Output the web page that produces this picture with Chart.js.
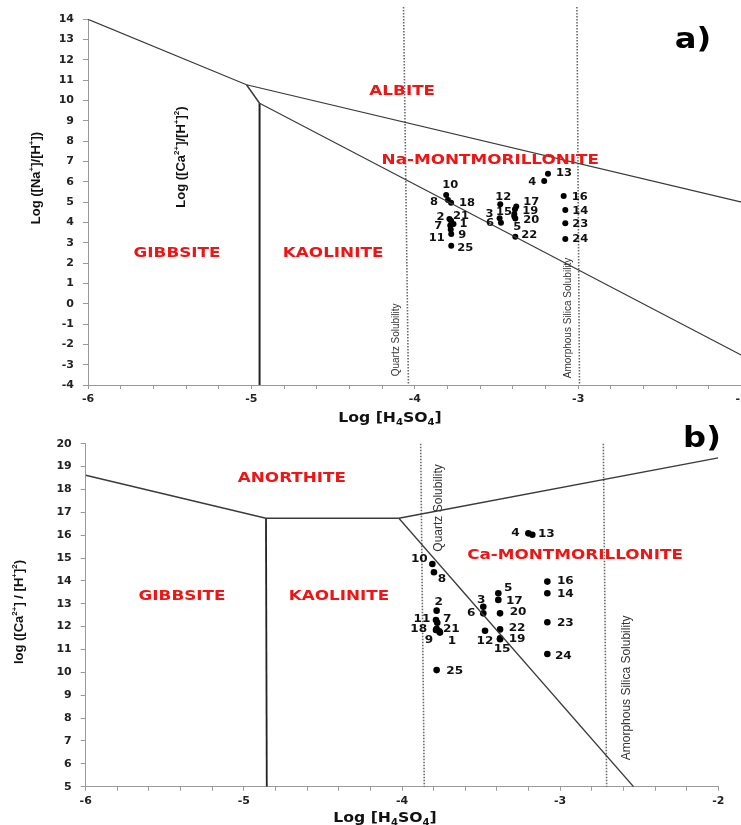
<!DOCTYPE html>
<html><head><meta charset="utf-8">
<script src="https://cdn.jsdelivr.net/npm/chart.js@4.4.1/dist/chart.umd.min.js"></script>
<style>
html,body{margin:0;padding:0;background:#fff;overflow:hidden;width:741px;height:825px;position:relative}
#wa{position:absolute;left:0;top:0;width:760px;height:425px}
#wb{position:absolute;left:0;top:420px;width:741px;height:405px}
canvas{display:block}
</style></head><body>
<div id="wa"><canvas id="ca" width="760" height="425"></canvas></div>
<div id="wb"><canvas id="cb" width="741" height="405"></canvas></div>
<script>
// ---------- DATA: chart a) Na system ----------
const sampleIds = ['1','2','3','4','5','6','7','8','9','10','11','12','13','14','15','16','17','18','19','20','21','22','23','24','25'];
const aSilica = [-3.763,-3.788,-3.481,-3.208,-3.385,-3.473,-3.783,-3.797,-3.777,-3.808,-3.780,-3.477,-3.185,-3.079,-3.387,-3.089,-3.379,-3.778,-3.391,-3.391,-3.778,-3.385,-3.079,-3.079,-3.777];
const aNaRatio = [3.93,4.17,4.21,6.04,4.20,3.99,3.85,5.11,3.43,5.35,3.65,4.90,6.40,4.61,4.65,5.30,4.78,4.97,4.42,4.30,4.09,3.30,3.96,3.19,2.86];
const aAlbiteX = [-6,-5.03,-2];          const aAlbiteY = [14,10.78,5.0];
const aKinkX = [-5.03,-4.95];            const aKinkY = [10.78,9.87];
const aKaolMontX = [-4.95,-2];           const aKaolMontY = [9.87,-2.54];
const aGibbKaolX = [-4.95,-4.95];        const aGibbKaolY = [9.87,-4];
const aQuartzX = [-4.069,-4.039];        const aQuartzY = [14.6,-4];
const aAmorphX = [-3.008,-2.992];        const aAmorphY = [14.6,-4];
const aXTicks = {min:-6,max:-2,step:0.2};
const aYTicks = {min:-4,max:14,step:1};

// ---------- DATA: chart b) Ca system ----------
const bSilica = [-3.760,-3.781,-3.486,-3.201,-3.391,-3.486,-3.777,-3.798,-3.785,-3.808,-3.785,-3.475,-3.176,-3.081,-3.380,-3.081,-3.391,-3.781,-3.380,-3.380,-3.764,-3.380,-3.081,-3.081,-3.781];
const bCaRatio = [11.74,12.70,12.87,16.08,13.46,12.58,12.17,14.38,11.85,14.74,12.29,11.82,16.02,13.46,11.45,13.97,13.17,11.90,11.49,12.58,11.80,11.88,12.19,10.80,10.10];
const bAnorthLeftX = [-6,-4.86];         const bAnorthLeftY = [18.62,16.74];
const bAnorthMidX = [-4.86,-4.02];       const bAnorthMidY = [16.74,16.74];
const bAnorthRightX = [-4.02,-2];        const bAnorthRightY = [16.74,19.38];
const bKaolMontX = [-4.02,-2.536];       const bKaolMontY = [16.74,5];
const bGibbKaolX = [-4.86,-4.855];       const bGibbKaolY = [16.74,5];
const bQuartzX = [-3.882,-3.859];        const bQuartzY = [20,5];
const bAmorphX = [-2.727,-2.706];        const bAmorphY = [20,5];
const bXTicks = {min:-6,max:-2,step:0.2};
const bYTicks = {min:5,max:20,step:1};

// ---------- STYLE ----------
const RED = '#f01414';
const SANS = '"DejaVu Sans", Verdana, sans-serif';
const LIB = '"Liberation Sans", Arial, sans-serif';
const aLabelOff = [[10,0],[-9,-3],[-10,-5],[-12,0],[2,8],[-11,0],[-12,0],[-14,1],[11,0],[4,-11],[-14,8],[3,-8],[16,-1],[15,0],[-11,2],[16,0],[15,-5],[16,0],[16,-4],[17,3],[10,-5],[14,-2],[15,0],[15,-1],[14,2]];
const bLabelOff = [[12,7],[2,-10],[-2,-8],[-13,-1],[10,-6],[-12,-1],[10,-5],[8,6],[-7,9],[-13,-6],[-14,-2],[0,9],[14,-2],[18,0],[2,9],[18,-2],[16,0],[-18,-1],[17,0],[18,-2],[12,-3],[17,-2],[18,0],[16,1],[18,0]];

function drawRich(ctx, cx, cy, segs, o){
  const size=o.size, fam=o.family, wt=o.weight||'normal';
  ctx.save();
  ctx.translate(cx,cy);
  ctx.scale(o.sx||1,1);
  if(o.rot) ctx.rotate(o.rot);
  ctx.fillStyle=o.color; ctx.textBaseline='alphabetic'; ctx.textAlign='left';
  const fontFor = k => `${wt} ${k ? Math.round(size*0.65) : size}px ${fam}`;
  let tot=0;
  const ws = segs.map(s=>{ctx.font=fontFor(s[1]); const w=ctx.measureText(s[0]).width; tot+=w; return w;});
  let x=-tot/2; const base=size*0.36;
  segs.forEach((s,i)=>{
    ctx.font=fontFor(s[1]);
    let dy=base;
    if(s[1]==='sup') dy=base-size*0.42;
    if(s[1]==='sub') dy=base+size*0.22;
    ctx.fillText(s[0],x,dy); x+=ws[i];
  });
  ctx.restore();
}

function annotPlugin(cfg){
  return {id:'annot', afterDatasetsDraw(chart){
    const ctx=chart.ctx, xs=chart.scales.x, ys=chart.scales.y;
    cfg.ids.forEach((id,i)=>{
      const px=xs.getPixelForValue(cfg.xv[i])+cfg.off[i][0];
      const py=ys.getPixelForValue(cfg.yv[i])+cfg.off[i][1];
      drawRich(ctx,px,py,[[id,'']],cfg.labelStyle);
    });
    cfg.texts.forEach(t=>{
      const px = t.px!==undefined ? t.px : xs.getPixelForValue(t.x);
      const py = t.py!==undefined ? t.py : ys.getPixelForValue(t.y);
      drawRich(ctx,px,py,t.segs,t);
    });
  }};
}

function lineDs(xs, ys, color, width, dash, noClip){
  const d={data:xs.map((v,i)=>({x:v,y:ys[i]})),showLine:true,pointRadius:0,pointHoverRadius:0,
    borderColor:color,borderWidth:width,borderDash:dash||[],fill:false,tension:0};
  if(noClip) d.clip=false;
  return d;
}

function makeChart(id, cfg){
  const ds = cfg.lines.slice();
  ds.push({data:cfg.xv.map((v,i)=>({x:v,y:cfg.yv[i]})),pointRadius:cfg.r,pointHoverRadius:cfg.r,
    backgroundColor:'#000',borderColor:'#000',borderWidth:0,showLine:false});
  const tickFont={family:SANS,size:11,weight:'bold'};
  return new Chart(document.getElementById(id),{
    type:'scatter',
    data:{datasets:ds},
    options:{
      responsive:false, animation:false, devicePixelRatio:1,
      events:[],
      layout:{padding:cfg.pad},
      plugins:{legend:{display:false},tooltip:{enabled:false},title:{display:false}},
      scales:{
        x:{type:'linear',min:cfg.xt.min,max:cfg.xt.max,
          border:{display:true,color:'#9a9a9a',width:1},
          grid:{display:true,drawOnChartArea:false,drawTicks:true,tickLength:4,color:'#9a9a9a'},
          ticks:{stepSize:cfg.xt.step,autoSkip:false,maxRotation:0,color:'#222',font:tickFont,padding:4,
            callback:v=>Math.abs(v-Math.round(v))<1e-6?String(Math.round(v)):''},
          afterFit:s=>{s.height=cfg.xH;}},
        y:{type:'linear',min:cfg.yt.min,max:cfg.yt.max,
          border:{display:true,color:'#9a9a9a',width:1},
          grid:{display:true,drawOnChartArea:false,drawTicks:true,tickLength:5,color:'#9a9a9a'},
          ticks:{stepSize:cfg.yt.step,autoSkip:false,color:'#222',font:tickFont,padding:9,
            callback:v=>String(Math.round(v))},
          afterFit:s=>{s.width=cfg.yW;}}
      }
    },
    plugins:[annotPlugin(cfg)]
  });
}

const LINE='#3a3a3a', DOT='#6a6a6a';
const redStyle = {size:14,weight:'bold',family:SANS,color:RED,sx:1.2};
const rotSmall = (s)=>({size:s,weight:'normal',family:LIB,color:'#333',rot:-Math.PI/2});

makeChart('ca',{
  xv:aSilica, yv:aNaRatio, ids:sampleIds, off:aLabelOff, r:3,
  labelStyle:{size:10,weight:'bold',family:SANS,color:'#111',sx:1.15},
  pad:{top:19.3,right:18.4,bottom:0,left:0}, xH:40, yW:88,
  xt:aXTicks, yt:aYTicks,
  lines:[
    lineDs(aAlbiteX,aAlbiteY,LINE,1.2),
    lineDs(aKinkX,aKinkY,LINE,1.5),
    lineDs(aKaolMontX,aKaolMontY,LINE,1.2),
    lineDs(aGibbKaolX,aGibbKaolY,'#222',2),
    lineDs(aQuartzX,aQuartzY,DOT,1.6,[1.5,1.5],true),
    lineDs(aAmorphX,aAmorphY,DOT,1.6,[1.5,1.5],true)
  ],
  texts:[
    Object.assign({segs:[['ALBITE','']],x:-4.077,y:10.52},redStyle),
    Object.assign({segs:[['Na-MONTMORILLONITE','']],x:-3.538,y:7.12},redStyle),
    Object.assign({segs:[['GIBBSITE','']],x:-5.455,y:2.55},redStyle),
    Object.assign({segs:[['KAOLINITE','']],x:-4.50,y:2.55},redStyle),
    {segs:[['Log ([Ca',''],['2+','sup'],[']/[H',''],['+','sup'],[']',''],['2','sup'],[')','']],x:-5.437,y:7.22,size:13,weight:'bold',family:LIB,color:'#111',rot:-Math.PI/2},
    {segs:[['Log ([Na',''],['+','sup'],[']/[H',''],['+','sup'],['])','']],px:35,py:178,size:13,weight:'bold',family:LIB,color:'#111',rot:-Math.PI/2},
    {segs:[['Log [H',''],['4','sub'],['SO',''],['4','sub'],[']','']],px:390,py:417,size:14,weight:'bold',family:SANS,color:'#111',sx:1.12},
    Object.assign({segs:[['Quartz Solubility','']],x:-4.120,y:-1.78},rotSmall(10)),
    Object.assign({segs:[['Amorphous Silica Solubility','']],x:-3.067,y:-0.70},rotSmall(10)),
    {segs:[['a)','']],px:693,py:38,size:28,weight:'bold',family:SANS,color:'#000',sx:1.15}
  ]
});

makeChart('cb',{
  xv:bSilica, yv:bCaRatio, ids:sampleIds, off:bLabelOff, r:3.3,
  labelStyle:{size:11,weight:'bold',family:SANS,color:'#111',sx:1.1},
  pad:{top:23.7,right:22.7,bottom:0,left:0}, xH:38.3, yW:85.7,
  xt:bXTicks, yt:bYTicks,
  lines:[
    lineDs(bAnorthLeftX,bAnorthLeftY,LINE,1.3),
    lineDs(bAnorthMidX,bAnorthMidY,LINE,1.3),
    lineDs(bAnorthRightX,bAnorthRightY,LINE,1.3),
    lineDs(bKaolMontX,bKaolMontY,LINE,1.3),
    lineDs(bGibbKaolX,bGibbKaolY,'#222',1.8),
    lineDs(bQuartzX,bQuartzY,DOT,1.6,[1.5,1.5],true),
    lineDs(bAmorphX,bAmorphY,DOT,1.6,[1.5,1.5],true)
  ],
  texts:[
    Object.assign({segs:[['ANORTHITE','']],x:-4.696,y:18.54},redStyle),
    Object.assign({segs:[['GIBBSITE','']],x:-5.391,y:13.38},redStyle),
    Object.assign({segs:[['KAOLINITE','']],x:-4.398,y:13.38},redStyle),
    Object.assign({segs:[['Ca-MONTMORILLONITE','']],x:-2.906,y:15.18},redStyle),
    {segs:[['log ([Ca',''],['2+','sup'],['] / [H',''],['+','sup'],[']',''],['2','sup'],[')','']],px:18,py:192,size:13,weight:'bold',family:LIB,color:'#111',rot:-Math.PI/2},
    {segs:[['Log [H',''],['4','sub'],['SO',''],['4','sub'],[']','']],px:385,py:397,size:14,weight:'bold',family:SANS,color:'#111',sx:1.12},
    Object.assign({segs:[['Quartz Solubility','']],x:-3.772,y:17.19},rotSmall(12)),
    Object.assign({segs:[['Amorphous Silica Solubility','']],x:-2.584,y:9.32},rotSmall(12)),
    {segs:[['b)','']],px:702,py:17,size:28,weight:'bold',family:SANS,color:'#000',sx:1.15}
  ]
});
</script>
</body></html>
